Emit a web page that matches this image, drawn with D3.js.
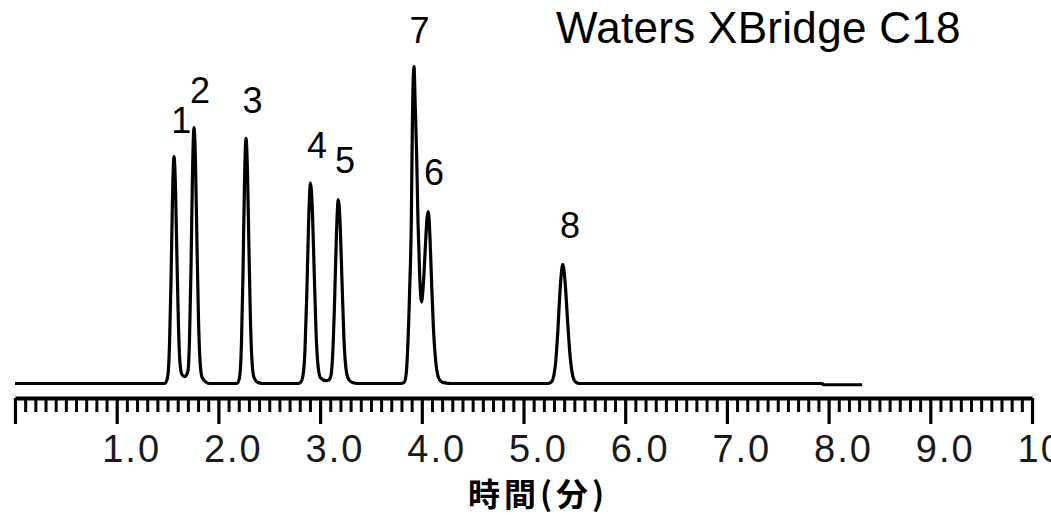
<!DOCTYPE html>
<html>
<head>
<meta charset="utf-8">
<script src="https://cdn.jsdelivr.net/npm/d3@7"></script>
<style>
  html, body { margin: 0; padding: 0; background: #fff; }
  svg { display: block; }
</style>
</head>
<body>
<svg id="chart" width="1051" height="515"></svg>
<script>
// Chromatogram trace: retention time (min) and detector signal (relative units)
const traceTime = [
  0, 1.470, 1.4848, 1.5044, 1.5192, 1.5339, 1.5487, 1.5634, 1.5782, 1.5929, 1.6077, 1.6224, 1.6421, 1.6716,
  1.7011, 1.7158, 1.7306, 1.7453, 1.7601, 1.7748, 1.7896, 1.8043, 1.8191, 1.8387, 1.8781, 1.9174,
  2.1731, 2.1927, 2.2124, 2.2271, 2.2419, 2.2566, 2.2714, 2.2861, 2.3009, 2.3156, 2.3304, 2.3500, 2.3894, 2.4287,
  2.7800, 2.8073, 2.8319, 2.8515, 2.8692, 2.8879, 2.9056, 2.9243, 2.9430, 2.9607, 2.9794, 3.0039, 3.0580,
  3.0806, 3.1052, 3.1249, 3.1426, 3.1613, 3.1790, 3.1976, 3.2163, 3.2340, 3.2527, 3.2773, 3.3166, 3.3727,
  3.7900, 3.8250, 3.8446, 3.8584, 3.8810, 3.8968, 3.9066, 3.9233, 3.9351, 3.9479, 3.9626, 3.9803, 3.9971,
  4.0167, 4.0364, 4.0511, 4.0639, 4.0806, 4.0983, 4.1150, 4.1318, 4.1544, 4.1839, 4.2281, 4.2970,
  5.2409, 5.2773, 5.2970, 5.3166, 5.3363, 5.3609, 5.3854, 5.4100, 5.4346, 5.4592, 5.4838, 5.5084, 5.5457,
  7.940, 7.946, 8.330
];
const traceSignal = [
  0, 0, 0.4, 2.9, 12.2, 32.2, 58.7, 71.6, 61.6, 38.7, 17.9, 6.4, 2.8, 2.2,
  4.0, 13.7, 36.3, 66.2, 80.7, 69.4, 43.6, 20.2, 7.3, 2.0, 0.4, 0,
  0, 0.3, 3.1, 13.1, 34.8, 63.4, 77.3, 66.5, 41.7, 19.3, 7.0, 1.9, 0.3, 0,
  0, 0.3, 2.5, 10.7, 28.4, 51.8, 63.2, 54.4, 34.1, 15.8, 5.7, 1.8, 0.9,
  1.0, 2.3, 9.9, 26.1, 47.6, 58.0, 49.9, 31.3, 14.5, 5.2, 1.5, 0.3, 0,
  0, 0.3, 2.5, 9, 30, 51, 80, 100, 88, 74, 51, 33, 25.7,
  32, 44, 52, 54.2, 46, 30, 17, 8.8, 3.0, 0.8, 0.2, 0,
  0, 0.6, 2.3, 6.8, 15.8, 30.1, 37.6, 31.6, 19.2, 8.3, 2.5, 0.6, 0,
  0, -0.4, -0.4
];

// Peak numbers and where each number sits (time, signal)
const peakNumbers = ["1", "2", "3", "4", "5", "7", "6", "8"];
const peakLabelTime = [1.636, 1.819, 2.335, 2.970, 3.245, 3.977, 4.120, 5.457];
const peakLabelSignal = [79.0, 88.5, 85.3, 71.1, 66.4, 107.4, 62.6, 45.9];

// Time axis
const majorTicks = [0, 1, 2, 3, 4, 5, 6, 7, 8, 9, 10];
const tickLabels = ["", "1.0", "2.0", "3.0", "4.0", "5.0", "6.0", "7.0", "8.0", "9.0", "10.0"];
const columnName = "Waters XBridge C18";
const axisTitle = "時間(分)";

const W = 1051, H = 515;
const svg = d3.select("#chart");
svg.append("rect").attr("width", W).attr("height", H).attr("fill", "#fff");

const x = d3.scaleLinear().domain([0, 10]).range([15, 1032]);
const y = d3.scaleLinear().domain([0, 100]).range([383.5, 66.5]);

// Trace
const points = traceTime.map((t, i) => [t, traceSignal[i]]);
const line = d3.line()
  .x(d => x(d[0]))
  .y(d => y(d[1]))
  .curve(d3.curveMonotoneX);

svg.append("path")
  .datum(points)
  .attr("d", line)
  .attr("fill", "none")
  .attr("stroke", "#000")
  .attr("stroke-width", 3.2)
  .attr("stroke-linejoin", "round");

// Axis: minor ticks every 0.1 min, major ticks every minute
const axisY = 398;
const minorTicks = d3.range(0, 101).filter(i => i % 10 !== 0).map(i => i / 10);

const gMinor = svg.append("g")
  .attr("transform", `translate(0,${axisY})`)
  .call(d3.axisBottom(x).tickValues(minorTicks).tickSize(14).tickSizeOuter(0).tickFormat(""));
gMinor.select(".domain").remove();
gMinor.selectAll(".tick line").attr("stroke", "#000").attr("stroke-width", 3);

const gMajor = svg.append("g")
  .attr("transform", `translate(0,${axisY})`)
  .call(d3.axisBottom(x).tickValues(majorTicks).tickSize(26).tickSizeOuter(0)
    .tickFormat(d => tickLabels[majorTicks.indexOf(d)]));
gMajor.select(".domain").attr("stroke", "#000").attr("stroke-width", 4);
gMajor.selectAll(".tick line").attr("stroke", "#000").attr("stroke-width", 3.2);
gMajor.selectAll(".tick text")
  .attr("y", 64)
  .attr("dy", null)
  .attr("x", -15)
  .attr("text-anchor", "start")
  .attr("fill", "#1a1a1a")
  .style("font-family", "'Liberation Sans', Arial, sans-serif")
  .style("font-size", "38px")
  .style("letter-spacing", "2px");

// Peak numbers
svg.append("g")
  .selectAll("text")
  .data(peakNumbers)
  .join("text")
  .attr("x", (d, i) => x(peakLabelTime[i]))
  .attr("y", (d, i) => y(peakLabelSignal[i]))
  .attr("text-anchor", "middle")
  .attr("fill", "#000")
  .style("font-family", "'Liberation Sans', Arial, sans-serif")
  .style("font-size", "36px")
  .text(d => d);

// Column name
svg.append("text")
  .attr("x", 556)
  .attr("y", 43)
  .attr("fill", "#000")
  .style("font-family", "'Liberation Sans', Arial, sans-serif")
  .style("font-size", "44px")
  .style("letter-spacing", "0.3px")
  .text(columnName);

// Axis title
svg.append("text")
  .attr("x", 538)
  .attr("y", 506)
  .attr("text-anchor", "middle")
  .attr("fill", "#000")
  .style("font-family", "'Noto Sans CJK JP', 'Noto Sans CJK SC', sans-serif")
  .style("font-weight", "bold")
  .style("font-size", "32px")
  .style("letter-spacing", "4px")
  .text(axisTitle);
</script>
</body>
</html>
